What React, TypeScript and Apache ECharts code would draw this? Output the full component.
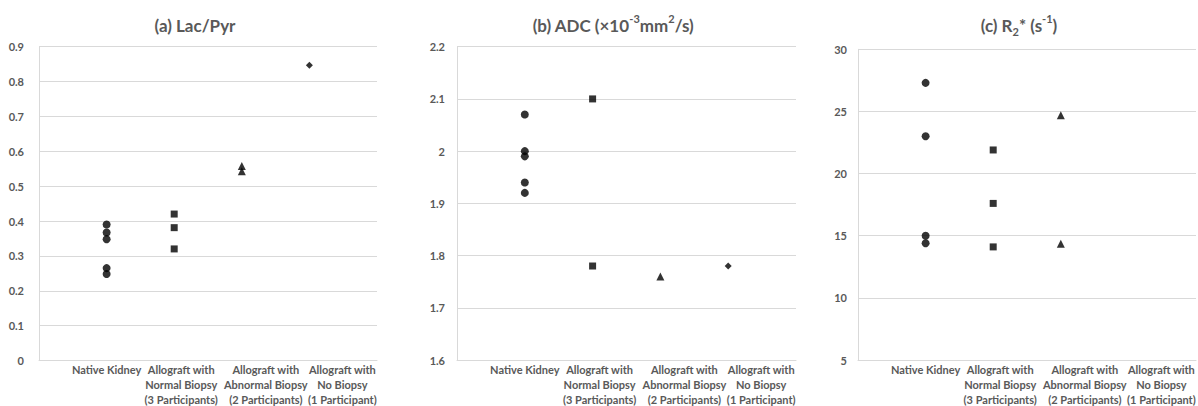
import React, { useEffect, useRef } from "react";
import * as echarts from "echarts";

// Category labels (x positions 1..4)
const categoryLabels = [
  "Native Kidney",
  "Allograft with\nNormal Biopsy\n(3 Participants)",
  "Allograft with\nAbnormal Biopsy\n(2 Participants)",
  "Allograft with\nNo Biopsy\n(1 Participant)",
];

// (a) Lac/Pyr
const lacPyrNative = [0.39, 0.367, 0.348, 0.265, 0.248];
const lacPyrNormal = [0.42, 0.381, 0.32];
const lacPyrAbnormal = [0.558, 0.543];
const lacPyrNoBiopsy = [0.847];

// (b) ADC
const adcNative = [2.07, 2.0, 1.99, 1.94, 1.92];
const adcNormal = [2.1, 1.78];
const adcAbnormal = [1.76];
const adcNoBiopsy = [1.78];

// (c) R2*
const r2Native = [27.3, 23.0, 15.0, 14.4];
const r2Normal = [21.9, 17.6, 14.1];
const r2Abnormal = [24.7, 14.35];
const r2NoBiopsy: number[] = [];

const symbols = ["circle", "rect", "triangle", "diamond"];
const symbolSizes = [8, 7, 8, 7];
// label centre shift relative to the category position (Excel wraps labels off-centre)
const labelShift = [0, 7, 24, 33];

const GRAY = "#595959";
const GRID = "#d9d9d9";
const FONT = "Lato";
const LABEL_SIZE = 11;
const LABEL_LH = 14.8;

export default function App() {
  const ref = useRef<HTMLDivElement>(null);
  useEffect(() => {
    if (!ref.current) return;
    const chart = echarts.init(ref.current, undefined, { renderer: "svg" });

    const panels = [
      { groups: [lacPyrNative, lacPyrNormal, lacPyrAbnormal, lacPyrNoBiopsy], min: 0, max: 0.9, interval: 0.1, grid: { left: 39, top: 46.7, width: 338, height: 313.8 }, labelMargin: 15 },
      { groups: [adcNative, adcNormal, adcAbnormal, adcNoBiopsy], min: 1.6, max: 2.2, interval: 0.1, grid: { left: 457, top: 46.7, width: 339, height: 313.3 }, labelMargin: 12 },
      { groups: [r2Native, r2Normal, r2Abnormal, r2NoBiopsy], min: 5, max: 30, interval: 5, grid: { left: 858, top: 49.3, width: 338, height: 310.7 }, labelMargin: 11 },
    ];

    const labelRich: any = {};
    labelShift.forEach((s, i) => {
      labelRich["c" + i] = {
        color: GRAY,
        fontFamily: FONT,
        fontWeight: "bold",
        fontSize: LABEL_SIZE,
        lineHeight: LABEL_LH,
        padding: [0, 0, 0, 2 * s],
        align: "center",
      };
    });

    const grid = panels.map((p) => ({ ...p.grid, containLabel: false, outerBoundsMode: "none" }));
    const xAxis = panels.map((_, i) => ({
      type: "value",
      gridIndex: i,
      min: 0,
      max: 5,
      interval: 1,
      splitLine: { show: false },
      axisTick: { show: false },
      axisLine: { show: true, lineStyle: { color: GRID, width: 1 } },
      axisLabel: {
        formatter: (v: number) => {
          const lbl = categoryLabels[v - 1];
          if (!lbl) return "";
          return lbl
            .split("\n")
            .map((l) => `{c${v - 1}|${l}}`)
            .join("\n");
        },
        rich: labelRich,
        color: GRAY,
        fontFamily: FONT,
        fontWeight: "bold",
        fontSize: LABEL_SIZE,
        lineHeight: LABEL_LH,
        margin: 2,
        align: "center",
      },
    }));
    const yAxis = panels.map((p, i) => ({
      type: "value",
      gridIndex: i,
      min: p.min,
      max: p.max,
      interval: p.interval,
      splitLine: { show: true, lineStyle: { color: GRID, width: 1 } },
      axisTick: { show: false },
      axisLine: { show: true, lineStyle: { color: GRID, width: 1 } },
      axisLabel: {
        color: GRAY,
        fontFamily: FONT,
        fontWeight: "bold",
        fontSize: 11,
        margin: p.labelMargin,
      },
    }));

    const series: any[] = [];
    panels.forEach((p, i) => {
      p.groups.forEach((vals, g) => {
        series.push({
          type: "scatter",
          xAxisIndex: i,
          yAxisIndex: i,
          symbol: symbols[g],
          symbolSize: symbolSizes[g],
          itemStyle: { color: "#000" },
          data: vals.map((v) => [g + 1, v]),
        });
      });
    });

    const rich = {
      n: { fontSize: 17, fontWeight: "bold", fontFamily: FONT, fill: GRAY, color: GRAY, lineHeight: 24 },
      sup: { fontSize: 11, fontWeight: "bold", fontFamily: FONT, fill: GRAY, color: GRAY, lineHeight: 14, verticalAlign: "top" },
      sub: { fontSize: 11, fontWeight: "bold", fontFamily: FONT, fill: GRAY, color: GRAY, lineHeight: 12, verticalAlign: "bottom" },
    };
    const titles = [
      { x: 195, y: 25, text: "{n|(a) Lac/Pyr}" },
      { x: 613, y: 25, text: "{n|(b) ADC (×10}{sup|-3}{n|mm}{sup|2}{n|/s)}" },
      { x: 1019, y: 25, text: "{n|(c) R}{sub|2}{n|* (s}{sup|-1}{n|)}" },
    ];

    chart.setOption({
      animation: false,
      backgroundColor: "#fff",
      grid,
      xAxis,
      yAxis,
      series,
      graphic: titles.map((t) => ({
        type: "text",
        x: t.x,
        y: t.y,
        style: {
          text: t.text,
          rich,
          align: "center",
          verticalAlign: "middle",
          fill: GRAY,
          font: `bold 17px ${FONT}`,
        },
      })),
    });
    return () => chart.dispose();
  }, []);
  return (
    <div
      ref={ref}
      style={{ position: "fixed", left: 0, top: 0, width: 1198, height: 406, background: "#fff" }}
    />
  );
}
